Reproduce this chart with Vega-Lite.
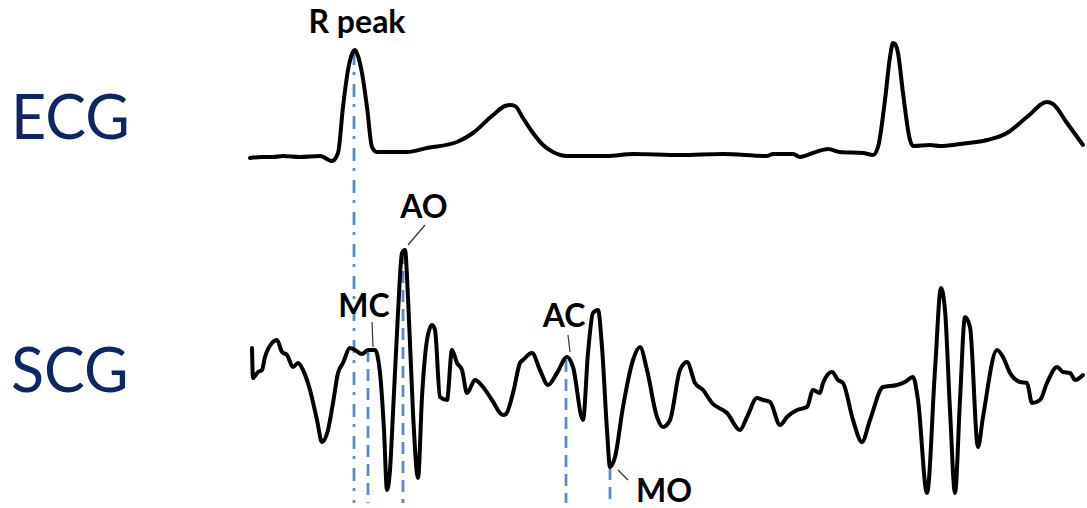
{
  "$schema": "https://vega.github.io/schema/vega-lite/v6.json",
  "width": 1087,
  "height": 508,
  "autosize": {"type": "fit", "contains": "padding"},
  "padding": 0,
  "background": "white",
  "config": {"view": {"stroke": null}},
  "datasets": {
    "signals": [
      {"s":"ECG","x":250,"y":158},{"s":"ECG","x":262,"y":157},{"s":"ECG","x":273,"y":157},{"s":"ECG","x":283,"y":156},{"s":"ECG","x":300,"y":157},{"s":"ECG","x":320,"y":156},{"s":"ECG","x":332,"y":161},{"s":"ECG","x":338,"y":153},{"s":"ECG","x":343,"y":107},{"s":"ECG","x":348,"y":70},{"s":"ECG","x":352,"y":54},{"s":"ECG","x":355,"y":50},{"s":"ECG","x":358,"y":56},{"s":"ECG","x":362,"y":73},{"s":"ECG","x":367,"y":107},{"s":"ECG","x":372,"y":147},{"s":"ECG","x":377,"y":152},{"s":"ECG","x":390,"y":152},{"s":"ECG","x":407,"y":152},{"s":"ECG","x":427,"y":148},{"s":"ECG","x":457,"y":142},{"s":"ECG","x":473,"y":133},{"s":"ECG","x":493,"y":115},{"s":"ECG","x":505,"y":106},{"s":"ECG","x":510,"y":105},{"s":"ECG","x":515,"y":106},{"s":"ECG","x":523,"y":118},{"s":"ECG","x":533,"y":133},{"s":"ECG","x":543,"y":145},{"s":"ECG","x":553,"y":152},{"s":"ECG","x":567,"y":156},{"s":"ECG","x":607,"y":156},{"s":"ECG","x":633,"y":154},{"s":"ECG","x":680,"y":155},{"s":"ECG","x":723,"y":154},{"s":"ECG","x":767,"y":156},{"s":"ECG","x":773,"y":154},{"s":"ECG","x":793,"y":154},{"s":"ECG","x":800,"y":157},{"s":"ECG","x":813,"y":153},{"s":"ECG","x":828,"y":149},{"s":"ECG","x":840,"y":152},{"s":"ECG","x":863,"y":153},{"s":"ECG","x":873,"y":155},{"s":"ECG","x":878,"y":147},{"s":"ECG","x":885,"y":100},{"s":"ECG","x":890,"y":57},{"s":"ECG","x":893,"y":43},{"s":"ECG","x":895,"y":44},{"s":"ECG","x":898,"y":53},{"s":"ECG","x":903,"y":93},{"s":"ECG","x":910,"y":140},{"s":"ECG","x":913,"y":146},{"s":"ECG","x":930,"y":145},{"s":"ECG","x":940,"y":146},{"s":"ECG","x":960,"y":144},{"s":"ECG","x":987,"y":140},{"s":"ECG","x":1007,"y":133},{"s":"ECG","x":1027,"y":117},{"s":"ECG","x":1047,"y":102},{"s":"ECG","x":1053,"y":104},{"s":"ECG","x":1067,"y":123},{"s":"ECG","x":1083,"y":145},
      {"s":"SCG","x":252,"y":348},{"s":"SCG","x":253,"y":378},{"s":"SCG","x":258,"y":372},{"s":"SCG","x":262,"y":370},{"s":"SCG","x":265,"y":357},{"s":"SCG","x":272,"y":343},{"s":"SCG","x":277,"y":340},{"s":"SCG","x":282,"y":352},{"s":"SCG","x":287,"y":355},{"s":"SCG","x":293,"y":367},{"s":"SCG","x":298,"y":363},{"s":"SCG","x":303,"y":370},{"s":"SCG","x":310,"y":390},{"s":"SCG","x":317,"y":420},{"s":"SCG","x":322,"y":442},{"s":"SCG","x":328,"y":430},{"s":"SCG","x":333,"y":403},{"s":"SCG","x":338,"y":373},{"s":"SCG","x":343,"y":363},{"s":"SCG","x":350,"y":348},{"s":"SCG","x":355,"y":350},{"s":"SCG","x":362,"y":354},{"s":"SCG","x":368,"y":350},{"s":"SCG","x":375,"y":350},{"s":"SCG","x":380,"y":373},{"s":"SCG","x":384,"y":430},{"s":"SCG","x":387,"y":490},{"s":"SCG","x":390,"y":470},{"s":"SCG","x":393,"y":413},{"s":"SCG","x":398,"y":313},{"s":"SCG","x":402,"y":253},{"s":"SCG","x":405,"y":250},{"s":"SCG","x":408,"y":297},{"s":"SCG","x":413,"y":413},{"s":"SCG","x":418,"y":478},{"s":"SCG","x":422,"y":397},{"s":"SCG","x":427,"y":340},{"s":"SCG","x":432,"y":325},{"s":"SCG","x":435,"y":330},{"s":"SCG","x":440,"y":397},{"s":"SCG","x":447,"y":400},{"s":"SCG","x":452,"y":350},{"s":"SCG","x":457,"y":363},{"s":"SCG","x":462,"y":370},{"s":"SCG","x":467,"y":393},{"s":"SCG","x":475,"y":380},{"s":"SCG","x":483,"y":387},{"s":"SCG","x":492,"y":400},{"s":"SCG","x":503,"y":415},{"s":"SCG","x":506,"y":414},{"s":"SCG","x":513,"y":393},{"s":"SCG","x":520,"y":363},{"s":"SCG","x":523,"y":360},{"s":"SCG","x":532,"y":353},{"s":"SCG","x":540,"y":370},{"s":"SCG","x":548,"y":385},{"s":"SCG","x":557,"y":373},{"s":"SCG","x":567,"y":357},{"s":"SCG","x":573,"y":367},{"s":"SCG","x":583,"y":420},{"s":"SCG","x":588,"y":353},{"s":"SCG","x":593,"y":313},{"s":"SCG","x":598,"y":310},{"s":"SCG","x":602,"y":347},{"s":"SCG","x":607,"y":430},{"s":"SCG","x":610,"y":467},{"s":"SCG","x":615,"y":457},{"s":"SCG","x":623,"y":407},{"s":"SCG","x":633,"y":360},{"s":"SCG","x":640,"y":347},{"s":"SCG","x":647,"y":370},{"s":"SCG","x":657,"y":417},{"s":"SCG","x":663,"y":427},{"s":"SCG","x":670,"y":420},{"s":"SCG","x":680,"y":370},{"s":"SCG","x":687,"y":362},{"s":"SCG","x":695,"y":383},{"s":"SCG","x":703,"y":390},{"s":"SCG","x":712,"y":403},{"s":"SCG","x":727,"y":413},{"s":"SCG","x":740,"y":430},{"s":"SCG","x":747,"y":417},{"s":"SCG","x":757,"y":398},{"s":"SCG","x":763,"y":400},{"s":"SCG","x":770,"y":402},{"s":"SCG","x":780,"y":425},{"s":"SCG","x":787,"y":417},{"s":"SCG","x":797,"y":410},{"s":"SCG","x":807,"y":407},{"s":"SCG","x":813,"y":390},{"s":"SCG","x":820,"y":393},{"s":"SCG","x":823,"y":383},{"s":"SCG","x":832,"y":372},{"s":"SCG","x":838,"y":380},{"s":"SCG","x":843,"y":383},{"s":"SCG","x":853,"y":420},{"s":"SCG","x":862,"y":442},{"s":"SCG","x":870,"y":420},{"s":"SCG","x":883,"y":387},{"s":"SCG","x":897,"y":385},{"s":"SCG","x":905,"y":382},{"s":"SCG","x":913,"y":377},{"s":"SCG","x":918,"y":400},{"s":"SCG","x":927,"y":493},{"s":"SCG","x":935,"y":370},{"s":"SCG","x":941,"y":288},{"s":"SCG","x":945,"y":310},{"s":"SCG","x":950,"y":410},{"s":"SCG","x":955,"y":493},{"s":"SCG","x":960,"y":400},{"s":"SCG","x":965,"y":317},{"s":"SCG","x":970,"y":327},{"s":"SCG","x":978,"y":447},{"s":"SCG","x":983,"y":417},{"s":"SCG","x":997,"y":350},{"s":"SCG","x":1003,"y":357},{"s":"SCG","x":1010,"y":373},{"s":"SCG","x":1020,"y":382},{"s":"SCG","x":1027,"y":383},{"s":"SCG","x":1032,"y":403},{"s":"SCG","x":1040,"y":400},{"s":"SCG","x":1047,"y":383},{"s":"SCG","x":1057,"y":367},{"s":"SCG","x":1063,"y":372},{"s":"SCG","x":1070,"y":373},{"s":"SCG","x":1075,"y":380},{"s":"SCG","x":1083,"y":375}
    ],
    "markers": [
      {"event":"MC","x":368,"y":350,"y2":503},
      {"event":"AO","x":403,"y":252,"y2":503},
      {"event":"AC","x":566,"y":360,"y2":503},
      {"event":"MO","x":610,"y":468,"y2":503}
    ],
    "rpeak": [{"event":"R peak","x":354,"y":52,"y2":503}],
    "leaders": [
      {"event":"MC","x":372,"y":322,"x2":373,"y2":347},
      {"event":"AO","x":425,"y":225,"x2":408,"y2":245},
      {"event":"AC","x":568,"y":335,"x2":570,"y2":352},
      {"event":"MO","x":618,"y":470,"x2":628,"y2":480}
    ],
    "labels": [
      {"t":"R peak","x":357,"y":33},
      {"t":"AO","x":424,"y":218},
      {"t":"MC","x":364,"y":317},
      {"t":"AC","x":564,"y":327},
      {"t":"MO","x":664,"y":502}
    ],
    "names": [
      {"t":"ECG","x":11,"y":139},
      {"t":"SCG","x":11,"y":392}
    ]
  },
  "encoding": {
    "x": {"field":"x","type":"quantitative","scale":{"domain":[0,1087],"nice":false,"zero":false},"axis":null},
    "y": {"field":"y","type":"quantitative","scale":{"domain":[508,0],"nice":false,"zero":false},"axis":null}
  },
  "layer": [
    {
      "data": {"name":"rpeak"},
      "mark": {"type":"rule","color":"#5b8ac9","strokeWidth":2.8,"strokeDash":[13,7,3,9]},
      "encoding": {"y2":{"field":"y2"}}
    },
    {
      "data": {"name":"markers"},
      "mark": {"type":"rule","color":"#5b8ac9","strokeWidth":2.8,"strokeDash":[12,7]},
      "encoding": {"y2":{"field":"y2"}}
    },
    {
      "data": {"name":"signals"},
      "mark": {"type":"line","color":"#000000","strokeWidth":4,"strokeJoin":"round","strokeCap":"round","interpolate":"monotone"},
      "encoding": {"detail":{"field":"s"}}
    },
    {
      "data": {"name":"leaders"},
      "mark": {"type":"rule","color":"#333333","strokeWidth":1.2},
      "encoding": {"x2":{"field":"x2"},"y2":{"field":"y2"}}
    },
    {
      "data": {"name":"labels"},
      "mark": {"type":"text","font":"Lato","fontWeight":"bold","fontSize":32,"align":"center","baseline":"alphabetic","color":"#000000"},
      "encoding": {"text":{"field":"t"}}
    },
    {
      "data": {"name":"names"},
      "mark": {"type":"text","font":"Lato","fontWeight":"normal","fontSize":61,"align":"left","baseline":"alphabetic","color":"#0e2566"},
      "encoding": {"text":{"field":"t"}}
    }
  ]
}
